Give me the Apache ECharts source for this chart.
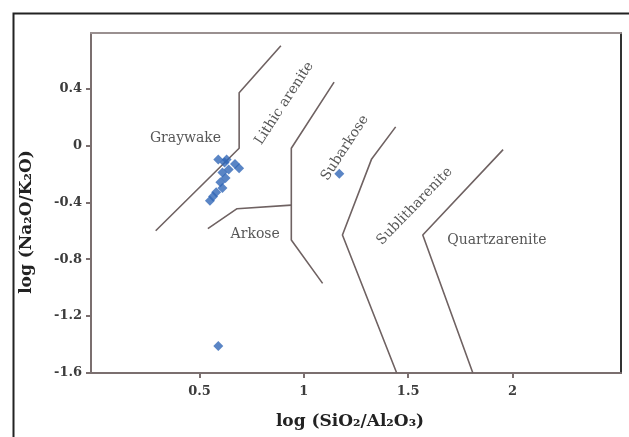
<!DOCTYPE html>
<html>
<head>
<meta charset="utf-8">
<script src="https://cdn.jsdelivr.net/npm/echarts@6/dist/echarts.min.js"></script>
<style>
html,body{margin:0;padding:0;background:#fff;}
#c{width:629px;height:437px;}
</style>
</head>
<body>
<div id="c"></div>
<script>
// Sample points: log(SiO2/Al2O3) vs log(Na2O/K2O)
const sampleX = [0.59, 0.63, 0.67, 0.69, 0.64, 0.61, 0.625, 0.60, 0.61, 0.58, 0.565, 0.55, 0.62, 0.59, 1.17];
const sampleY = [-0.10, -0.10, -0.13, -0.16, -0.17, -0.19, -0.23, -0.26, -0.30, -0.33, -0.36, -0.39, -0.12, -1.41, -0.20];

// Field boundary polylines (x list, y list)
const b1X = [0.29, 0.69, 0.69, 0.89];
const b1Y = [-0.60, -0.02, 0.37, 0.70];
const b2X = [0.54, 0.68, 0.94];
const b2Y = [-0.585, -0.445, -0.42];
const b3X = [1.145, 0.94, 0.94, 1.09];
const b3Y = [0.445, -0.02, -0.665, -0.97];
const b4X = [1.44, 1.325, 1.185, 1.445];
const b4Y = [0.13, -0.095, -0.63, -1.60];
const b5X = [1.955, 1.57, 1.81];
const b5Y = [-0.03, -0.63, -1.60];

// Field labels
const fieldNames = ['Graywake', 'Lithic arenite', 'Arkose', 'Subarkose', 'Sublitharenite', 'Quartzarenite'];
const fieldX = [0.433, 0.906, 0.767, 1.197, 1.531, 1.925];
const fieldY = [0.049, 0.295, -0.625, -0.018, -0.428, -0.667];
const fieldRot = [0, 57, 0, 57, 46, 0];

// Tick labels
const xTicks = [0.5, 1, 1.5, 2];
const yTicks = [-1.6, -1.2, -0.8, -0.4, 0, 0.4];

const zip = (xs, ys) => xs.map((x, i) => [x, ys[i]]);
const lineColor = '#6f6262';
const axisColor = '#7b6f6f';
const tickFont = {fontFamily: 'DejaVu Serif', fontWeight: 'bold', fontSize: 13, color: '#3c3c3c'};

const boundary = (xs, ys) => ({
  type: 'line', data: zip(xs, ys), showSymbol: false, symbol: 'none',
  lineStyle: {color: lineColor, width: 1.6}, silent: true, z: 2
});

const chart = echarts.init(document.getElementById('c'), null, {renderer: 'canvas'});
chart.setOption({
  animation: false,
  backgroundColor: '#fff',
  grid: {left: 91, right: 8, top: 33, bottom: 64},
  graphic: [{
    type: 'rect', left: 11, top: 11, shape: {width: 700, height: 500},
    style: {fill: 'none', stroke: '#222', lineWidth: 2}, silent: true
  }],
  xAxis: [{
    type: 'value', min: -0.02, max: 2.52, position: 'bottom',
    axisLine: {onZero: false, lineStyle: {color: axisColor, width: 2}},
    axisTick: {show: true, length: 5, customValues: xTicks, lineStyle: {color: axisColor, width: 2}},
    axisLabel: Object.assign({customValues: xTicks, margin: 12}, tickFont),
    splitLine: {show: false},
    name: 'log (SiO₂/Al₂O₃)', nameLocation: 'middle', nameGap: 40,
    nameTextStyle: {fontFamily: 'DejaVu Serif', fontWeight: 'bold', fontSize: 17, color: '#222', padding: [0, 12, 0, 0]}
  }, {
    type: 'value', min: -0.02, max: 2.52, position: 'top',
    axisLine: {show: true, onZero: false, lineStyle: {color: '#9a9090', width: 2}},
    axisTick: {show: false}, axisLabel: {show: false}, splitLine: {show: false}
  }],
  yAxis: [{
    type: 'value', min: -1.6, max: 0.79, position: 'left',
    axisLine: {onZero: false, lineStyle: {color: axisColor, width: 2}},
    axisTick: {show: true, length: 5, customValues: yTicks, lineStyle: {color: axisColor, width: 2}},
    axisLabel: Object.assign({customValues: yTicks, margin: 9}, tickFont),
    splitLine: {show: false},
    name: 'log (Na₂O/K₂O)', nameLocation: 'middle', nameGap: 56,
    nameTextStyle: {fontFamily: 'DejaVu Serif', fontWeight: 'bold', fontSize: 17, color: '#222', padding: [0, 38, 0, 0]}
  }, {
    type: 'value', min: -1.6, max: 0.79, position: 'right',
    axisLine: {show: true, onZero: false, lineStyle: {color: '#333', width: 2}},
    axisTick: {show: false}, axisLabel: {show: false}, splitLine: {show: false}
  }],
  series: [
    boundary(b1X, b1Y), boundary(b2X, b2Y), boundary(b3X, b3Y), boundary(b4X, b4Y), boundary(b5X, b5Y),
    {
      type: 'scatter', data: zip(sampleX, sampleY), symbol: 'diamond', symbolSize: 10,
      itemStyle: {color: '#3166b6'}, z: 4
    },
    {
      type: 'scatter', symbolSize: 0, silent: true, z: 3,
      data: fieldNames.map((n, i) => ({
        value: [fieldX[i], fieldY[i]],
        label: {show: true, formatter: n, position: 'inside', rotate: fieldRot[i],
          fontFamily: 'DejaVu Serif', fontSize: 14, color: '#2c2c2c'}
      }))
    }
  ]
});
</script>
</body>
</html>
